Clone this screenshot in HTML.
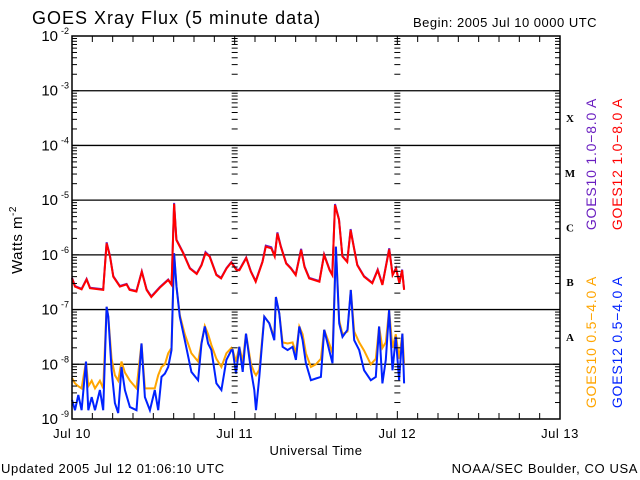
<!DOCTYPE html>
<html><head><meta charset="utf-8">
<style>
html,body{margin:0;padding:0;background:#fff;}
svg{display:block;font-family:"Liberation Sans","DejaVu Sans",sans-serif;}
</style></head>
<body>
<svg id="chart" width="640" height="480" viewBox="0 0 640 480" xmlns="http://www.w3.org/2000/svg">
<rect width="640" height="480" fill="#fff"/>
<text x="32" y="24" font-size="18" letter-spacing="1" fill="#000">GOES Xray Flux (5 minute data)</text>
<text x="413" y="27" font-size="13" letter-spacing="0.5" fill="#000">Begin:  2005 Jul 10 0000 UTC</text>
<text transform="translate(22,240) rotate(-90)" text-anchor="middle" font-size="15" letter-spacing="0.5" fill="#000">Watts m<tspan font-size="10" dy="-6">-2</tspan></text>
<text x="316" y="455" text-anchor="middle" font-size="13" letter-spacing="0.5" fill="#000">Universal Time</text>
<text x="1" y="473" font-size="13" letter-spacing="0.6" fill="#000">Updated 2005 Jul 12 01:06:10 UTC</text>
<text x="638" y="473" text-anchor="end" font-size="13" letter-spacing="0.6" fill="#000">NOAA/SEC Boulder, CO USA</text>
<g id="grid"></g>
<g id="series"></g>
<g id="axes"></g>
<g id="labels"></g>
</svg>
<script>
// ---- data (hours since Jul 10 00:00, log10 flux W/m^2) ----
const dayLabels = ["Jul 10","Jul 11","Jul 12","Jul 13"];
const decadeExps = [-9,-8,-7,-6,-5,-4,-3,-2];
const classLetters = ["A","B","C","M","X"];
const longTimes = [0.0,0.44,1.42,2.16,2.65,4.6,5.1,5.6,6.1,7.07,8.05,8.5,9.5,10.3,11.0,11.7,12.96,14.2,14.7,15.07,15.4,16.4,17.4,18.4,19.1,19.7,20.3,21.3,22.0,22.8,23.5,24.3,24.7,25.7,26.4,27.1,28.1,28.6,29.4,29.9,30.3,30.8,31.6,32.3,33.0,33.8,34.3,35.0,36.5,37.2,38.0,38.4,38.8,39.4,39.9,40.6,41.1,41.6,42.1,43.1,44.3,45.1,45.8,46.8,47.3,47.8,48.3,48.7,49.0];
const g12Long = [-6.43,-6.58,-6.63,-6.45,-6.61,-6.64,-5.79,-6.03,-6.40,-6.58,-6.54,-6.64,-6.67,-6.31,-6.64,-6.77,-6.60,-6.46,-6.55,-5.07,-5.73,-5.97,-6.25,-6.35,-6.19,-5.97,-6.03,-6.37,-6.43,-6.25,-6.14,-6.28,-6.28,-6.06,-6.31,-6.49,-6.13,-5.85,-5.88,-6.03,-5.61,-5.85,-6.16,-6.25,-6.37,-5.91,-6.22,-6.43,-6.49,-6.00,-6.28,-6.37,-5.09,-5.36,-6.03,-6.13,-5.55,-5.88,-6.19,-6.40,-6.52,-6.28,-6.55,-5.90,-6.37,-6.25,-6.52,-6.28,-6.64];
const g10Long = [-6.42,-6.57,-6.62,-6.44,-6.60,-6.63,-5.77,-6.02,-6.39,-6.57,-6.53,-6.63,-6.66,-6.30,-6.63,-6.76,-6.59,-6.45,-6.54,-5.05,-5.72,-5.96,-6.24,-6.34,-6.18,-5.95,-6.02,-6.36,-6.42,-6.24,-6.13,-6.27,-6.27,-6.05,-6.30,-6.48,-6.12,-5.83,-5.86,-6.02,-5.59,-5.84,-6.15,-6.24,-6.36,-5.89,-6.21,-6.42,-6.48,-5.99,-6.27,-6.36,-5.07,-5.35,-6.02,-6.12,-5.53,-5.87,-6.18,-6.39,-6.51,-6.27,-6.54,-5.88,-6.36,-6.24,-6.51,-6.27,-6.63];
const shortTimes = [0.0,0.44,0.93,1.42,2.06,2.41,2.90,3.39,4.12,4.61,5.11,5.35,5.84,6.33,6.82,7.31,7.80,8.54,9.52,10.26,10.75,11.49,12.22,12.72,13.21,13.70,14.19,14.68,15.07,15.42,15.91,16.64,17.62,18.61,19.10,19.59,20.08,20.57,21.31,22.04,22.78,23.52,23.71,24.20,24.69,25.18,25.67,26.41,26.90,27.15,27.64,28.37,29.11,29.85,30.09,30.58,31.07,31.81,32.55,33.04,33.53,34.02,34.51,35.25,35.99,36.72,37.21,37.95,38.44,38.93,39.42,39.91,40.65,41.14,41.63,42.37,43.10,44.09,44.82,45.31,45.80,46.30,46.79,47.28,47.77,48.26,48.75,49.0];
const g12Short = [-8.65,-8.84,-8.56,-8.84,-7.95,-8.84,-8.60,-8.84,-8.47,-8.84,-6.95,-7.13,-8.11,-8.71,-8.89,-8.05,-8.47,-8.78,-8.84,-7.62,-8.60,-8.84,-8.47,-8.84,-8.23,-8.17,-8.05,-7.74,-5.97,-6.58,-7.13,-7.56,-8.14,-8.29,-7.62,-7.31,-7.62,-7.74,-8.35,-8.47,-7.92,-7.74,-7.74,-8.17,-7.68,-8.14,-7.44,-8.11,-8.47,-8.84,-8.23,-7.13,-7.25,-7.56,-6.77,-7.07,-7.68,-7.74,-7.68,-7.92,-7.31,-7.56,-7.98,-8.29,-8.26,-8.23,-7.37,-7.74,-7.98,-5.85,-7.25,-7.50,-7.37,-6.64,-7.56,-7.74,-8.11,-8.29,-8.23,-7.31,-8.35,-7.92,-7.01,-8.11,-7.50,-8.29,-7.44,-8.35];
const g10Short = [-8.25,-8.35,-8.40,-8.44,-7.95,-8.40,-8.30,-8.44,-8.30,-8.44,-6.95,-7.13,-7.90,-8.20,-8.30,-7.95,-8.15,-8.30,-8.44,-7.62,-8.44,-8.44,-8.44,-8.20,-8.05,-8.00,-7.80,-7.70,-5.97,-6.58,-7.10,-7.45,-7.80,-7.95,-7.60,-7.30,-7.45,-7.65,-7.90,-8.05,-7.80,-7.70,-7.74,-7.95,-7.68,-7.95,-7.44,-8.00,-8.15,-8.20,-8.10,-7.13,-7.25,-7.50,-6.77,-7.07,-7.60,-7.62,-7.60,-7.80,-7.31,-7.45,-7.80,-8.05,-8.00,-7.90,-7.37,-7.62,-7.80,-5.85,-7.20,-7.45,-7.40,-6.64,-7.40,-7.60,-7.75,-8.00,-7.90,-7.31,-7.70,-7.60,-7.01,-7.70,-7.45,-7.90,-7.44,-8.00];

// ---- axes ----
const X0=72, X1=560, Y0=36, Y1=419;
const NS="http://www.w3.org/2000/svg";
function xs(h){return X0+(X1-X0)*h/72;}
function ys(lg){return Y1-(Y1-Y0)*(lg+9)/7;}
function mk(tag,attrs,parent){const e=document.createElementNS(NS,tag);for(const k in attrs)e.setAttribute(k,attrs[k]);parent.appendChild(e);return e;}
const grid=document.getElementById('grid'), axes=document.getElementById('axes'), series=document.getElementById('series'), labels=document.getElementById('labels');

decadeExps.forEach(function(e){
  const y=ys(e);
  if(e>-9&&e<-2){
    const l=mk('line',{x1:X0,x2:X1,y1:y,y2:y,stroke:'#000','stroke-width':1.3},grid);
    
    
  }
  const t=mk('text',{x:X0-14,y:y+5,'text-anchor':'end','font-size':15,fill:'#000'},labels);
  
  
  t.textContent='10';
  const s=mk('tspan',{dy:-7,'font-size':9},t); s.textContent=String(e);
  s.setAttribute('x',X0-3); s.setAttribute('text-anchor','end');
});
const tickXs=[[X0,1],[X1,-1],[xs(24),0],[xs(48),0]];
for(let d=-9; d<-2; d++){
  for(let m=1;m<10;m++){
    const y=ys(d+Math.log10(m));
    tickXs.forEach(function(p){
      const len=(m===1)?7:5;
      let a,b;
      if(p[1]===1){a=X0;b=X0+len;} else if(p[1]===-1){a=X1-len;b=X1;} else {a=p[0]-3;b=p[0]+3;}
      const tk=mk('line',{x1:a,x2:b,y1:y,y2:y,stroke:'#000','stroke-width':1},axes);
      
      
    });
  }
}
for(let h=0; h<=72; h+=3){
  const x=xs(h), big=(h%24===0);
  [[Y1,-1],[Y0,1]].forEach(function(p){
    const len=big?8:6;
    const tk=mk('line',{x1:x,x2:x,y1:p[0],y2:p[0]+p[1]*len,stroke:'#000','stroke-width':1},axes);
    
    
  });
}
const fr=mk('rect',{x:X0,y:Y0,width:X1-X0,height:Y1-Y0,fill:'none',stroke:'#000','stroke-width':1.5},axes);


dayLabels.forEach(function(lbl,i){
  const t=mk('text',{x:xs(i*24),y:438,'text-anchor':'middle','font-size':13,'letter-spacing':0.5,fill:'#000'},labels);
  
  
  t.textContent=lbl;
});
classLetters.forEach(function(c,i){
  const t=mk('text',{x:570,y:ys(-8+i+0.5)+4,'text-anchor':'middle','font-size':11,'font-weight':'bold','font-family':'"Liberation Serif",serif',fill:'#000'},labels);
  
  
  t.textContent=c;
});
const legend=[["GOES10 1.0\u22128.0 A","#6a1fc0",596,164],["GOES12 1.0\u22128.0 A","#ff0000",622,164],["GOES10 0.5\u22124.0 A","#ffa500",596,342],["GOES12 0.5\u22124.0 A","#0022ff",622,342]];
legend.forEach(function(l){
  const t=mk('text',{transform:'translate('+l[2]+','+l[3]+') rotate(-90)','text-anchor':'middle','font-size':14,'letter-spacing':0.8,fill:l[1]},labels);
  
  
  t.textContent=l[0];
});
function drawSeries(times,vals,color,name){
  let d='';
  times.forEach(function(h,i){d+=(i?'L':'M')+xs(h).toFixed(1)+' '+ys(vals[i]).toFixed(1);});
  const p=mk('path',{d:d,fill:'none',stroke:color,'stroke-width':2,'stroke-linejoin':'miter'},series);
  
  
}
drawSeries(shortTimes,g10Short,'#ffa500','series-goes10-short');
drawSeries(shortTimes,g12Short,'#0022ff','series-goes12-short');
drawSeries(longTimes,g10Long,'#6a1fc0','series-goes10-long');
drawSeries(longTimes,g12Long,'#ff0000','series-goes12-long');
</script>
</body></html>
